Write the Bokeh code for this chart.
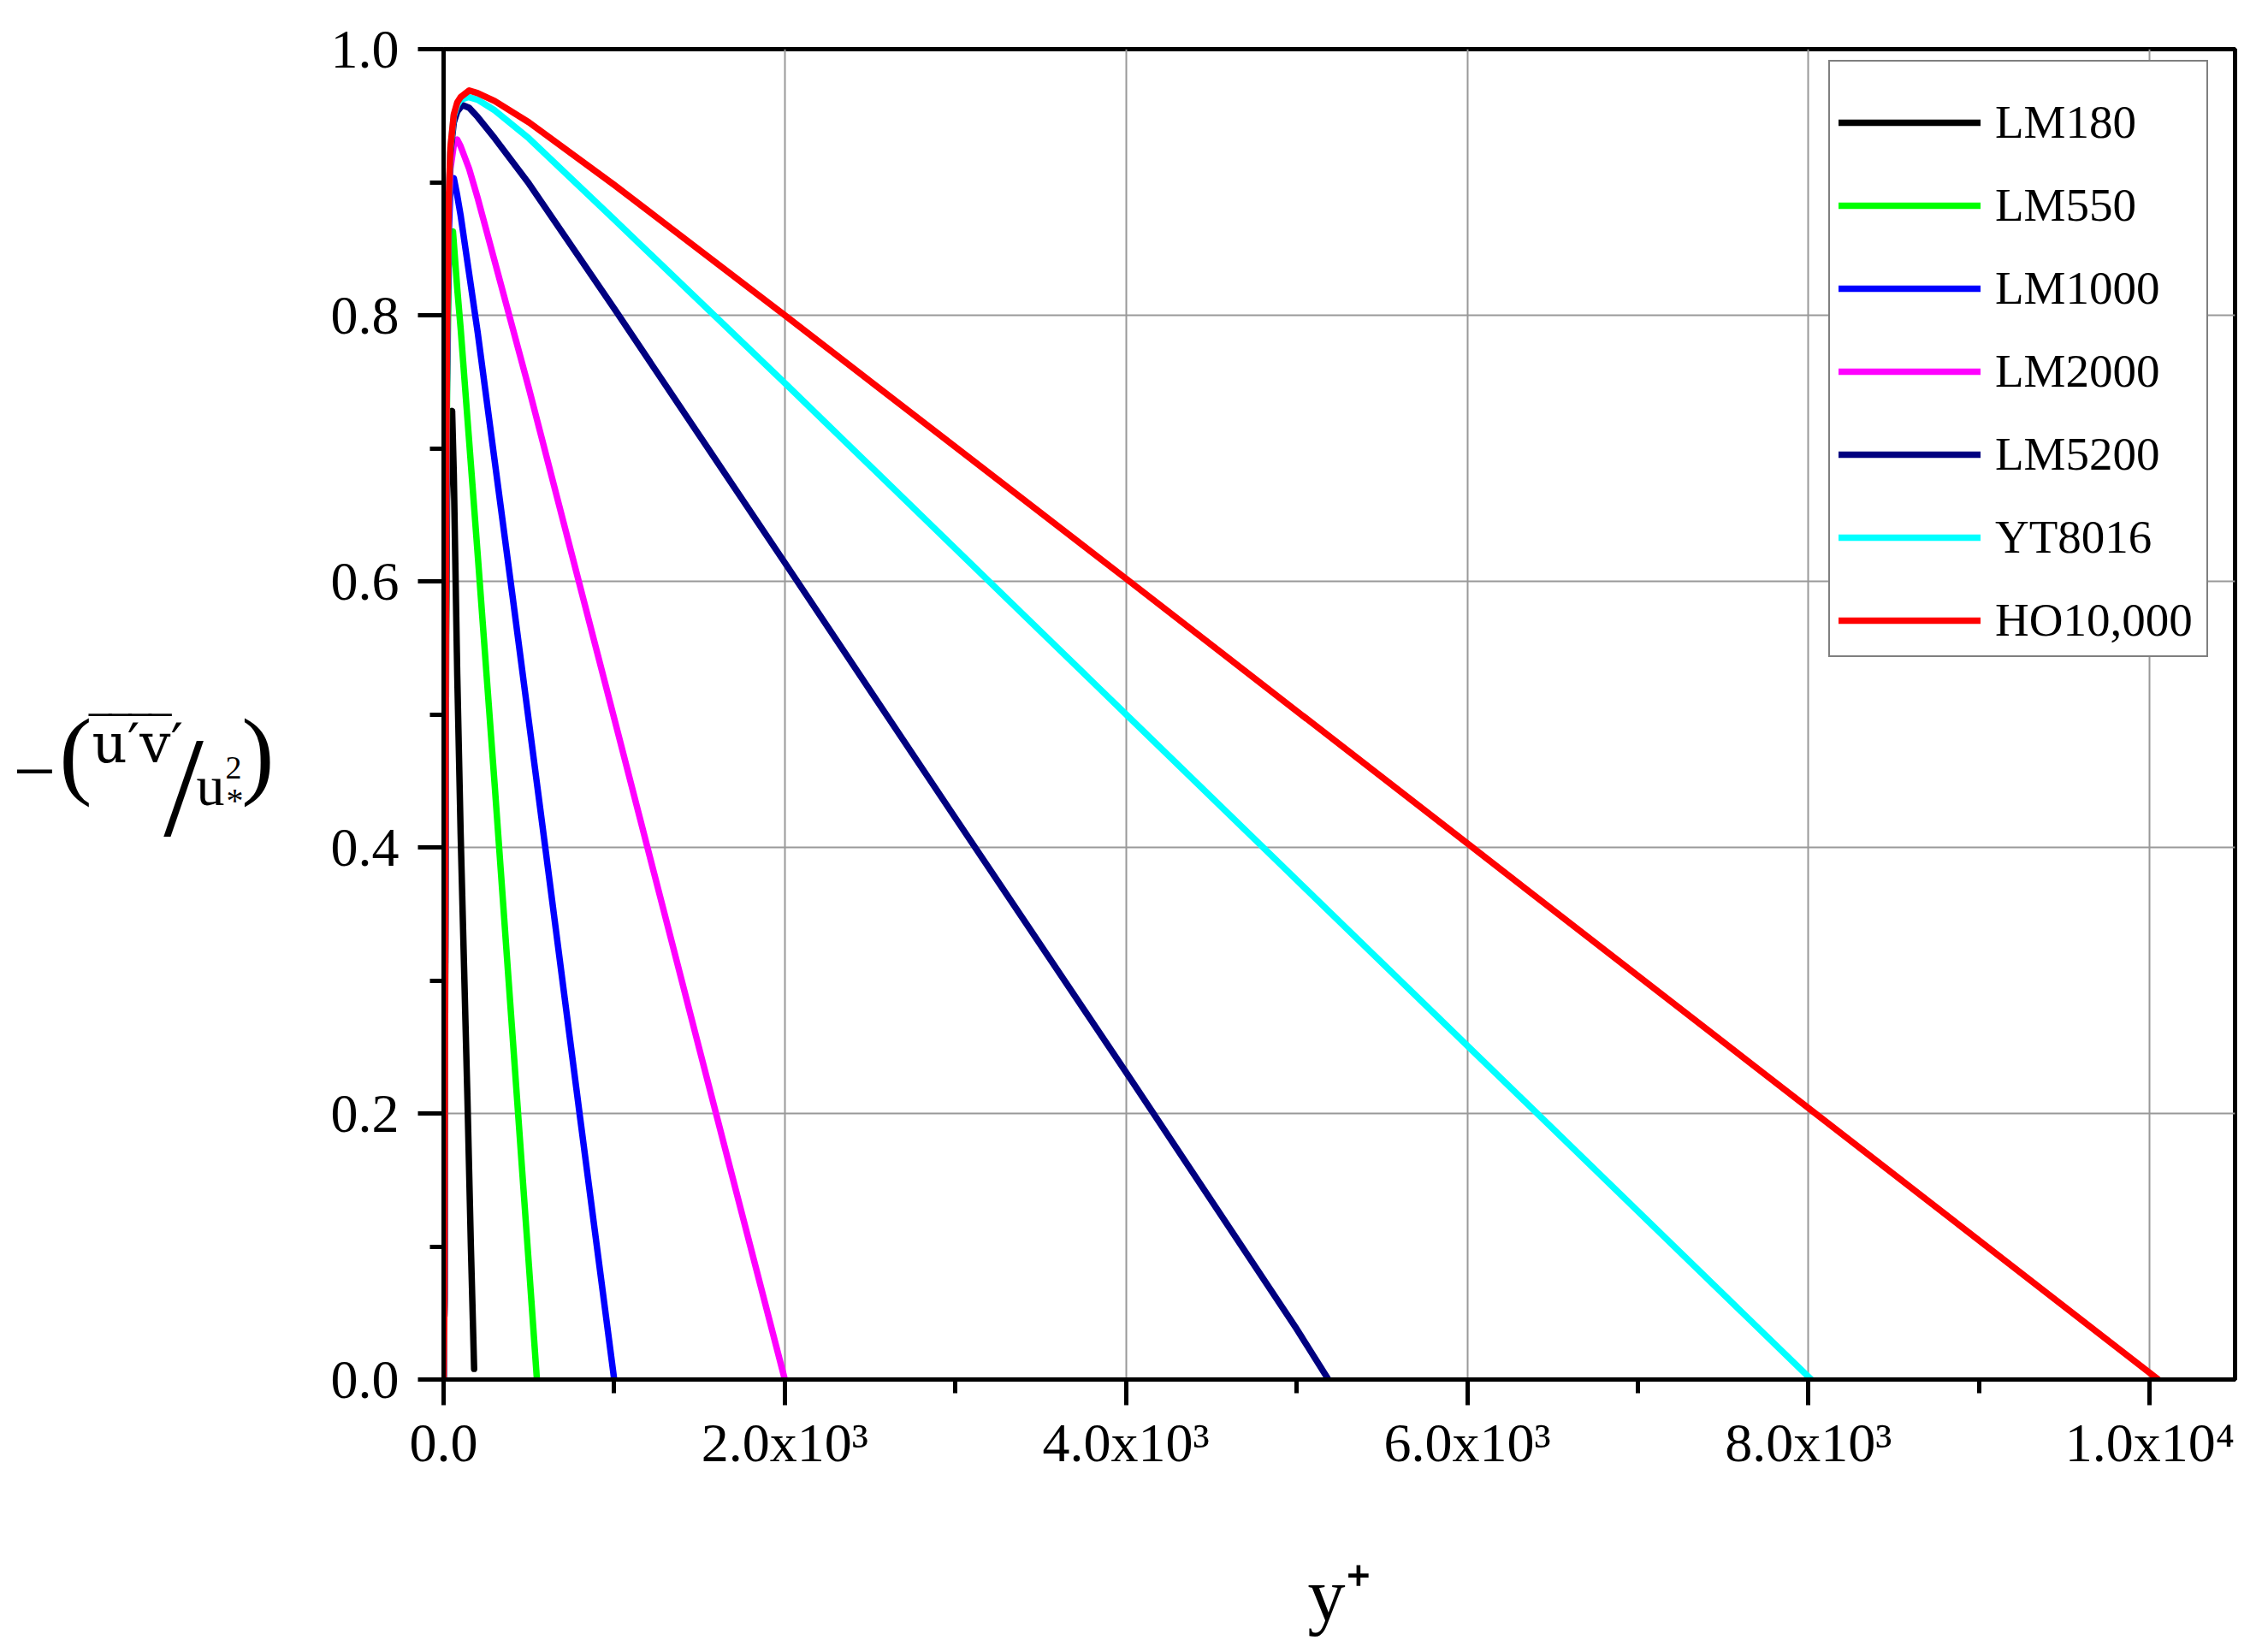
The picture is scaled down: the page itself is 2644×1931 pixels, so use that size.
from bokeh.plotting import figure
from bokeh.layouts import row
from bokeh.models import Range1d, FixedTicker, Legend, LegendItem, Label, PrintfTickFormatter
from bokeh.embed import file_html
from bokeh.resources import INLINE

FONT = "Liberation Serif"

# ---- data ----
series_names = ["LM180", "LM550", "LM1000", "LM2000", "LM5200", "YT8016", "HO10,000"]
series_colors = ["#000000", "#00ff00", "#0000ff", "#ff00ff", "#000080", "#00ffff", "#ff0000"]

lm180_yp = [0, 5, 10, 15, 20, 30, 40, 50, 60, 80, 100, 120, 140, 160, 179]
lm180_uv = [0.0, 0.06, 0.33, 0.56, 0.66, 0.70, 0.725, 0.728, 0.68, 0.53, 0.41, 0.31, 0.21, 0.10, 0.008]

lm550_yp = [0, 5, 10, 15, 20, 30, 40, 55, 80, 100, 200, 300, 400, 500, 547]
lm550_uv = [0.0, 0.06, 0.36, 0.61, 0.74, 0.835, 0.858, 0.863, 0.82, 0.79, 0.62, 0.446, 0.266, 0.086, 0.0]

lm1000_yp = [0, 5, 10, 15, 20, 30, 40, 60, 80, 100, 200, 400, 600, 800, 1000]
lm1000_uv = [0.0, 0.06, 0.37, 0.63, 0.76, 0.86, 0.895, 0.903, 0.89, 0.875, 0.787, 0.593, 0.396, 0.197, 0.0]

lm2000_yp = [0, 5, 10, 15, 20, 30, 40, 60, 80, 100, 150, 200, 500, 1000, 1500, 2000]
lm2000_uv = [0.0, 0.06, 0.38, 0.64, 0.77, 0.875, 0.91, 0.928, 0.932, 0.927, 0.91, 0.888, 0.745, 0.497, 0.248, 0.0]

lm5200_yp = [0, 5, 10, 15, 20, 30, 40, 60, 80, 110, 150, 200, 300, 500, 1000, 2000, 3000, 4000, 5000, 5186]
lm5200_uv = [0.0, 0.06, 0.38, 0.65, 0.776, 0.884, 0.922, 0.945, 0.953, 0.958, 0.956, 0.949, 0.933, 0.899, 0.805, 0.614, 0.422, 0.231, 0.038, 0.0]

yt8016_yp = [0, 5, 10, 15, 20, 30, 40, 60, 80, 100, 145, 200, 300, 500, 1000, 2000, 4000, 6000, 8016]
yt8016_uv = [0.0, 0.06, 0.38, 0.65, 0.78, 0.886, 0.925, 0.95, 0.958, 0.962, 0.964, 0.962, 0.954, 0.933, 0.872, 0.749, 0.50, 0.251, 0.0]

ho10000_yp = [0, 5, 10, 15, 20, 30, 40, 60, 80, 100, 150, 200, 300, 500, 1000, 2000, 4000, 6000, 8000, 10050]
ho10000_uv = [0.0, 0.06, 0.39, 0.66, 0.78, 0.887, 0.926, 0.951, 0.96, 0.964, 0.969, 0.967, 0.961, 0.945, 0.898, 0.80, 0.602, 0.403, 0.204, 0.0]

x_major_ticks = [0, 2000, 4000, 6000, 8000, 10000]
x_minor_ticks = [1000, 3000, 5000, 7000, 9000]
x_tick_labels = ["0.0", "2.0x10\u00b3", "4.0x10\u00b3", "6.0x10\u00b3", "8.0x10\u00b3", "1.0x10\u2074"]
y_major_ticks = [0.0, 0.2, 0.4, 0.6, 0.8, 1.0]
y_minor_ticks = [0.1, 0.3, 0.5, 0.7, 0.9]

series_x = [lm180_yp, lm550_yp, lm1000_yp, lm2000_yp, lm5200_yp, yt8016_yp, ho10000_yp]
series_y = [lm180_uv, lm550_uv, lm1000_uv, lm2000_uv, lm5200_uv, yt8016_uv, ho10000_uv]

TOTAL_W, TOTAL_H = 2628, 1915
LEFT_W = 330

# ---- left strip holding the (horizontal) y-axis title ----
lf = figure(width=LEFT_W, height=TOTAL_H, x_range=Range1d(0, LEFT_W), y_range=Range1d(0, 1560),
            x_axis_type=None, y_axis_type=None, output_backend="svg", toolbar_location=None,
            min_border=0, min_border_left=0, min_border_right=0)
lf.outline_line_color = None
lf.background_fill_color = "white"
lf.border_fill_color = "white"


def lab(text, x, y, size, align="left", font=FONT):
    lf.add_layout(Label(x=x, y=y, x_units="screen", y_units="screen", text=text,
                        text_font=font, text_font_size=size, text_color="black",
                        text_align=align, text_baseline="alphabetic"))


lab("\u2212", 40, 711, "88px", "center")
lab("(", 88, 732, "115px", "center")
lab("u\u2032v\u2032", 107, 744, "64px", font="DejaVu Serif")
lab("\u203e\u203e\u203e\u203e", 105, 746, "70px")
lab("/", 214, 694, "168px", "center")
lab("u", 229, 694, "66px")
lab("2", 263, 715, "38px")
lab("*", 264, 677, "40px")
lab(")", 301, 732, "115px", "center")

# ---- main chart ----
p = figure(width=TOTAL_W - LEFT_W, height=TOTAL_H,
           x_range=Range1d(0, 10500), y_range=Range1d(0, 1.0),
           output_backend="svg", toolbar_location=None,
           min_border_left=188, min_border_right=16,
           min_border_top=57, min_border_bottom=298)
p.background_fill_color = "white"
p.border_fill_color = "white"
p.outline_line_color = "black"
p.outline_line_width = 5

xt = FixedTicker(ticks=x_major_ticks, minor_ticks=x_minor_ticks)
yt = FixedTicker(ticks=y_major_ticks, minor_ticks=y_minor_ticks)
p.xaxis.ticker = xt
p.yaxis.ticker = yt
p.xgrid.ticker = xt
p.ygrid.ticker = yt
for g in (p.xgrid, p.ygrid):
    g.grid_line_color = "#999999"
    g.grid_line_width = 2

for ax in (p.xaxis, p.yaxis):
    ax.axis_line_color = "black"
    ax.axis_line_width = 5
    ax.major_tick_line_color = "black"
    ax.minor_tick_line_color = "black"
    ax.major_tick_line_width = 5
    ax.minor_tick_line_width = 5
    ax.major_tick_in = 0
    ax.minor_tick_in = 0
    ax.major_tick_out = 30
    ax.minor_tick_out = 16
    ax.major_label_text_font = FONT
    ax.major_label_text_font_size = "64px"
    ax.major_label_text_color = "black"

p.xaxis.major_label_standoff = 8
p.yaxis.major_label_standoff = 22
p.xaxis.major_label_overrides = {t: s for t, s in zip(x_major_ticks, x_tick_labels)}
p.yaxis.formatter = PrintfTickFormatter(format="%.1f")

p.xaxis.axis_label = "y\u207a"
p.xaxis.axis_label_text_font = FONT
p.xaxis.axis_label_text_font_size = "88px"
p.xaxis.axis_label_text_font_style = "normal"
p.xaxis.axis_label_text_color = "black"
p.xaxis.axis_label_standoff = 91

# ---- curves ----
items = []
for name, col, xs, ys in zip(series_names, series_colors, series_x, series_y):
    r = p.line(xs, ys, line_color=col, line_width=7.5, line_cap="round", line_join="round")
    items.append(LegendItem(label=name, renderers=[r]))

legend = Legend(items=items, location=(1619, 844),
                title=" ", title_text_font_size="14px", title_standoff=13,
                label_text_font=FONT, label_text_font_size="55px", label_text_color="black",
                glyph_width=166, glyph_height=62, label_height=62, label_width=237,
                label_standoff=17, spacing=34, padding=10, margin=0,
                border_line_color="black", border_line_width=2,
                background_fill_color="white", background_fill_alpha=1.0)
p.add_layout(legend)

layout = row(lf, p)
open("out.html", "w").write(file_html(layout, INLINE))
